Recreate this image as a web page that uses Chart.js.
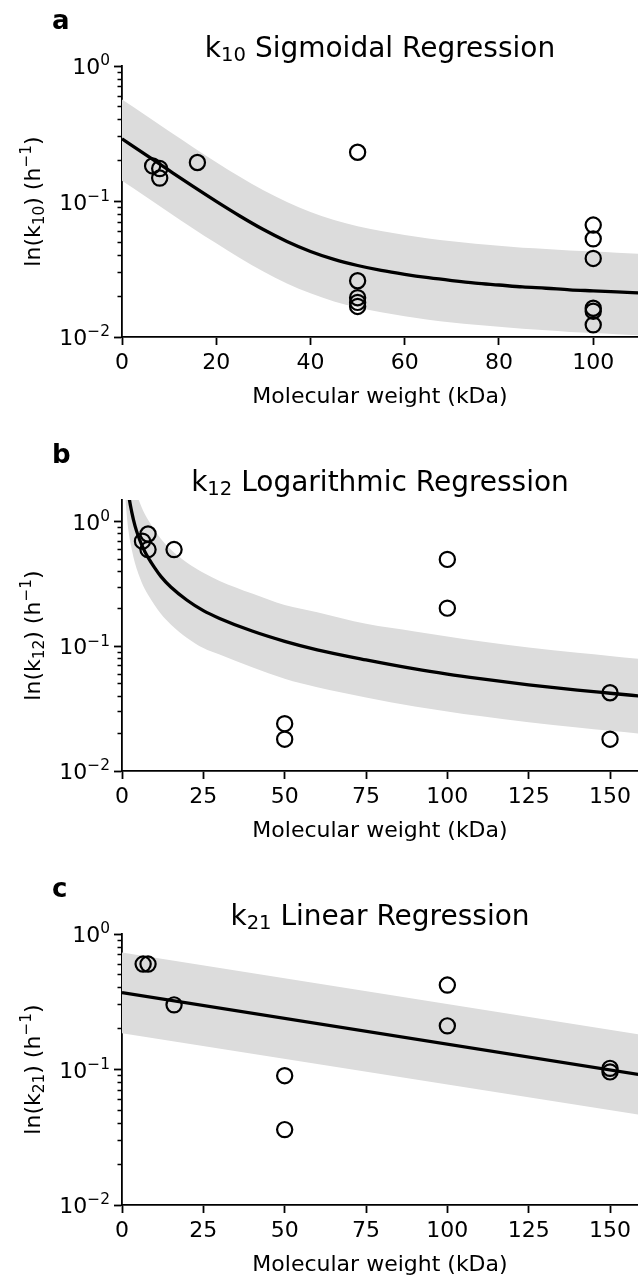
<!DOCTYPE html>
<html><head><meta charset="utf-8">
<script src="https://cdn.jsdelivr.net/npm/chart.js@4.4.0/dist/chart.umd.min.js"></script>
<style>
html,body{margin:0;padding:0;background:#fff;overflow:hidden;width:638px;height:1278px;position:relative}
canvas{position:absolute;left:0}
</style></head><body>
<canvas id="ca" width="638" height="426" style="top:0px"></canvas>
<canvas id="cb" width="638" height="426" style="top:434px"></canvas>
<canvas id="cc" width="638" height="426" style="top:868px"></canvas>
<script>
// ---------- Panel a: k10 sigmoidal ----------
const k10X = [6.5, 8, 8, 16, 50, 50, 50, 50, 50, 100, 100, 100, 100, 100, 100];
const k10Y = [0.183, 0.175, 0.149, 0.194, 0.231, 0.026, 0.0195, 0.018, 0.0168, 0.067, 0.053, 0.038, 0.0163, 0.0155, 0.0123];
const k10FitX = [0, 5, 10, 15, 20, 25, 30, 35, 40, 45, 50, 55, 60, 65, 70, 75, 80, 85, 90, 95, 100, 105, 110];
const k10Fit = [0.290, 0.222, 0.1694, 0.1297, 0.1002, 0.0782, 0.0621, 0.0507, 0.0428, 0.0374, 0.0337, 0.0310, 0.0290, 0.0274, 0.0261, 0.0250, 0.0242, 0.0234, 0.0229, 0.0223, 0.0219, 0.0215, 0.0211];
const k10Upper = [0.565, 0.433, 0.330, 0.253, 0.195, 0.152, 0.121, 0.099, 0.0835, 0.073, 0.0657, 0.0605, 0.0566, 0.0534, 0.0509, 0.0488, 0.0472, 0.0456, 0.0447, 0.0435, 0.0427, 0.0419, 0.0411];
const k10Lower = [0.142, 0.109, 0.083, 0.0636, 0.0491, 0.0383, 0.0304, 0.0248, 0.021, 0.0183, 0.0165, 0.0152, 0.0142, 0.0134, 0.0128, 0.0123, 0.0119, 0.0115, 0.0112, 0.0109, 0.0107, 0.0105, 0.0103];

// ---------- Panel b: k12 logarithmic ----------
const k12X = [6.3, 8, 8, 16, 50, 50, 100, 100, 150, 150];
const k12Y = [0.70, 0.80, 0.60, 0.60, 0.024, 0.018, 0.50, 0.203, 0.0425, 0.018];
const k12FitX = [1, 2, 3, 4, 5, 6, 7, 8, 10, 12, 15, 20, 25, 30, 40, 50, 60, 75, 90, 100, 110, 125, 140, 150, 160];
const k12Fit = [3.07, 1.69, 1.2, 0.93, 0.77, 0.66, 0.58, 0.52, 0.43, 0.364, 0.30, 0.235, 0.194, 0.168, 0.133, 0.11, 0.094, 0.078, 0.066, 0.060, 0.0552, 0.0492, 0.0446, 0.0421, 0.0398];
const k12Upper = [6.1, 3.4, 2.4, 1.86, 1.54, 1.32, 1.16, 1.04, 0.86, 0.73, 0.6, 0.47, 0.39, 0.336, 0.266, 0.215, 0.188, 0.152, 0.132, 0.12, 0.11, 0.098, 0.089, 0.084, 0.079];
const k12Lower = [1.54, 0.845, 0.6, 0.465, 0.385, 0.33, 0.29, 0.26, 0.215, 0.182, 0.15, 0.117, 0.097, 0.086, 0.068, 0.055, 0.047, 0.039, 0.033, 0.0301, 0.0276, 0.0246, 0.0223, 0.021, 0.0199];

// ---------- Panel c: k21 linear ----------
const k21X = [6.5, 8, 16, 50, 50, 100, 100, 150, 150];
const k21Y = [0.60, 0.60, 0.30, 0.090, 0.036, 0.42, 0.21, 0.102, 0.096];
const k21FitX = [0, 160];
const k21Fit = [0.37, 0.091];
const k21Upper = [0.73, 0.18];
const k21Lower = [0.185, 0.046];

// ---------- Axes / ticks ----------
const xTicksA = [0, 20, 40, 60, 80, 100];
const xTicksBC = [0, 25, 50, 75, 100, 125, 150];
const yMajorTicks = [0.01, 0.1, 1];
const yMajorLabels = [[['10', 'n'], ['\u22122', 'sup']], [['10', 'n'], ['\u22121', 'sup']], [['10', 'n'], ['0', 'sup']]];
const yMinorMultipliers = [2, 3, 4, 5, 6, 7, 8, 9];

const FONT = 'DejaVu Sans';
Chart.defaults.font.family = FONT;
Chart.defaults.color = '#000';

function drawRich(c, parts, x, y, S, align) {
  const fnt = s => s.toFixed(1) + 'px "' + FONT + '"';
  const size = k => (k === 'n' ? S : S * 0.7);
  let w = 0;
  const ws = parts.map(([t, k]) => { c.font = fnt(size(k)); const m = c.measureText(t).width; w += m; return m; });
  let cx = align === 'center' ? x - w / 2 : (align === 'right' ? x - w : x);
  c.textAlign = 'left';
  c.textBaseline = 'alphabetic';
  parts.forEach(([t, k], i) => {
    c.font = fnt(size(k));
    const dy = k === 'sub' ? 0.16 * S : (k === 'sup' ? -0.39 * S : 0);
    c.fillText(t, cx, y + dy);
    cx += ws[i];
  });
}

const richText = {
  id: 'richText',
  afterDraw(chart, args, o) {
    const c = chart.ctx, ca = chart.chartArea, ys = chart.scales.y;
    c.save();
    c.fillStyle = '#000';
    c.font = 'bold 26px "' + FONT + '"';
    c.textAlign = 'left';
    c.textBaseline = 'alphabetic';
    c.fillText(o.letter, 52, 29);
    drawRich(c, o.title, (ca.left + ca.right) / 2, 57, 28, 'center');
    yMajorTicks.forEach((v, i) => {
      if (v <= ys.max) drawRich(c, yMajorLabels[i], 110, ys.getPixelForValue(v) + 8, 22, 'right');
    });
    c.translate(40, (ca.top + ca.bottom) / 2);
    c.rotate(-Math.PI / 2);
    drawRich(c, o.yTitle, 0, 0, 22, 'center');
    c.restore();
  }
};

function pts(xs, ys) { return xs.map((x, i) => ({x: x, y: ys[i]})); }

function buildYTicks(yMax) {
  const t = [];
  yMajorTicks.forEach(d => {
    if (d <= yMax) t.push({value: d, major: true});
    if (d < 1) yMinorMultipliers.forEach(m => { const v = +(m * d).toPrecision(3); if (v <= yMax) t.push({value: v, major: false}); });
  });
  return t.sort((a, b) => a.value - b.value);
}

function makePanel(id, letter, title, yTitle, xMax, yMax, xTicks, sx, sy, fx, fy, up, lo, smooth) {
  const mode = smooth ? 'monotone' : 'default';
  new Chart(document.getElementById(id), {
    type: 'line',
    data: {
      datasets: [
        {data: pts(fx, up), borderWidth: 0, pointRadius: 0, fill: '+1', backgroundColor: '#dcdcdc', order: 3, cubicInterpolationMode: mode},
        {data: pts(fx, lo), borderWidth: 0, pointRadius: 0, fill: false, order: 3, cubicInterpolationMode: mode},
        {data: pts(fx, fy), borderColor: '#000', borderWidth: 3.3, pointRadius: 0, fill: false, order: 2, cubicInterpolationMode: mode},
        {data: pts(sx, sy), showLine: false, pointRadius: 7.6, pointHoverRadius: 7.6, pointBorderWidth: 2.2, pointBorderColor: '#000', pointBackgroundColor: 'rgba(0,0,0,0)', order: 1}
      ]
    },
    options: {
      responsive: false, animation: false, devicePixelRatio: 1,
      layout: {autoPadding: false, padding: {top: 66, left: 0, right: 0, bottom: 0}},
      events: [],
      plugins: {
        legend: {display: false}, tooltip: {enabled: false}, title: {display: false},
        richText: {letter: letter, title: title, yTitle: yTitle}
      },
      scales: {
        x: {
          type: 'linear', min: 0, max: xMax,
          afterFit: s => { s.height = 89; s.paddingLeft = 0; s.paddingRight = 0; },
          afterBuildTicks: s => { s.ticks = xTicks.map(v => ({value: v})); },
          border: {display: true, color: '#000', width: 1.8},
          grid: {display: true, drawOnChartArea: false, drawTicks: true, tickLength: 8, tickColor: '#000', tickWidth: 1.8},
          ticks: {font: {size: 22}, color: '#000', padding: 5, maxRotation: 0, autoSkip: false},
          title: {display: true, text: 'Molecular weight (kDa)', color: '#000', font: {size: 22}, padding: {top: 0, bottom: 16}}
        },
        y: {
          type: 'logarithmic', min: 0.01, max: yMax,
          afterFit: s => { s.width = 122; s.paddingTop = 0; s.paddingBottom = 0; },
          afterBuildTicks: s => { s.ticks = buildYTicks(yMax); },
          border: {display: true, color: '#000', width: 1.8},
          grid: {display: true, drawOnChartArea: false, drawTicks: true, tickLength: 8, tickColor: '#000',
            tickWidth: ctx => (ctx.tick && yMajorTicks.includes(ctx.tick.value)) ? 1.8 : 1.3,
            tickBorderDash: ctx => (ctx.tick && yMajorTicks.includes(ctx.tick.value)) ? [] : [0, 3.5, 20, 20]},
          ticks: {display: false, autoSkip: false},
          title: {display: false}
        }
      }
    },
    plugins: [richText]
  });
}

makePanel('ca', 'a', [['k', 'n'], ['10', 'sub'], [' Sigmoidal Regression', 'n']],
  [['ln(k', 'n'], ['10', 'sub'], [') (h', 'n'], ['\u22121', 'sup'], [')', 'n']],
  109.5, 1, xTicksA, k10X, k10Y, k10FitX, k10Fit, k10Upper, k10Lower, true);
makePanel('cb', 'b', [['k', 'n'], ['12', 'sub'], [' Logarithmic Regression', 'n']],
  [['ln(k', 'n'], ['12', 'sub'], [') (h', 'n'], ['\u22121', 'sup'], [')', 'n']],
  158.6, 1.5, xTicksBC, k12X, k12Y, k12FitX, k12Fit, k12Upper, k12Lower, true);
makePanel('cc', 'c', [['k', 'n'], ['21', 'sub'], [' Linear Regression', 'n']],
  [['ln(k', 'n'], ['21', 'sub'], [') (h', 'n'], ['\u22121', 'sup'], [')', 'n']],
  158.6, 1, xTicksBC, k21X, k21Y, k21FitX, k21Fit, k21Upper, k21Lower, false);
</script>
</body></html>
